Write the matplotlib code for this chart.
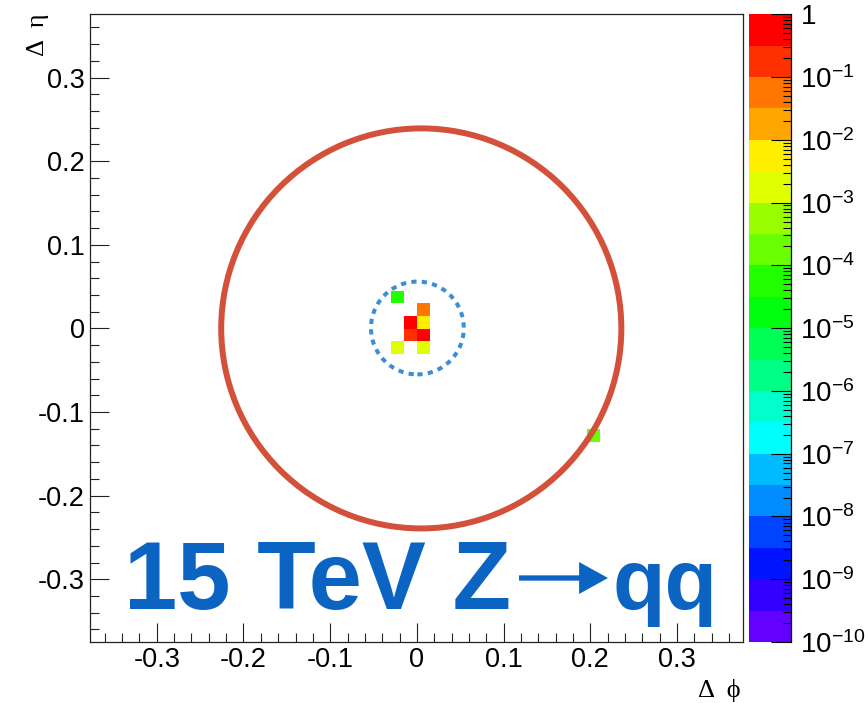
import numpy as np
import matplotlib
matplotlib.use("Agg")
import matplotlib.pyplot as plt
from matplotlib.colors import ListedColormap, LogNorm
from matplotlib.patches import Ellipse, Rectangle, FancyArrowPatch, ArrowStyle
from matplotlib.collections import PatchCollection
from matplotlib.ticker import MultipleLocator, FixedLocator, FuncFormatter, NullFormatter

plt.rcParams["font.family"] = ["Liberation Sans", "DejaVu Sans"]
plt.rcParams["axes.unicode_minus"] = False
plt.rcParams["mathtext.fontset"] = "custom"
plt.rcParams["mathtext.rm"] = "Liberation Sans"
plt.rcParams["mathtext.it"] = "Liberation Sans:italic"
plt.rcParams["mathtext.bf"] = "Liberation Sans:bold"

# Calorimeter cells around the jet axis: (delta phi, delta eta) of cell centres and energy fraction
cell_dphi = [-0.0227, 0.0077, -0.0075, 0.0077, -0.0075, 0.0077, -0.0227, 0.0077, 0.2038]
cell_deta = [0.0376, 0.0226, 0.0072, 0.0072, -0.0078, -0.0078, -0.0228, -0.0228, -0.1278]
cell_weight = [6e-5, 5e-2, 5e-1, 5e-3, 2e-1, 4e-1, 2e-3, 2e-3, 2e-4]
cell_size = 0.0152

# Large jet cone and small core cone
cone_center = (0.005, 0.0)
cone_radius = (0.2307, 0.2392)
core_center = (0.0005, 0.0005)
core_radius = (0.0535, 0.0555)

# 20-level violet-to-red palette, half a decade per level
palette = ["#6300ff", "#3300ff", "#0014ff", "#0044ff", "#008bff",
           "#00bbff", "#00fffc", "#00ffcc", "#00ff85", "#00ff55",
           "#00ff0e", "#22ff00", "#69ff00", "#99ff00", "#e0ff00",
           "#ffee00", "#ffa700", "#ff7700", "#ff3000", "#ff0000"]
z_min, z_max = 1e-10, 1.0
cbar_ticks = [1e-10, 1e-9, 1e-8, 1e-7, 1e-6, 1e-5, 1e-4, 1e-3, 1e-2, 1e-1, 1.0]

W, H = 865, 703
fig = plt.figure(figsize=(W / 100, H / 100), dpi=100)
ax = fig.add_axes([90 / W, 61 / H, 653 / W, 628 / H])
cax = fig.add_axes([749 / W, 61 / H, 41.7 / W, 627.7 / H])

cmap = ListedColormap(palette)
norm = LogNorm(vmin=z_min, vmax=z_max)

rects = [Rectangle((x - cell_size / 2, y - cell_size / 2), cell_size, cell_size)
         for x, y in zip(cell_dphi, cell_deta)]
coll = PatchCollection(rects, cmap=cmap, norm=norm, edgecolor="none", zorder=2)
coll.set_array(np.array(cell_weight))
ax.add_collection(coll)

ax.add_patch(Ellipse(cone_center, 2 * cone_radius[0], 2 * cone_radius[1],
                     fill=False, ec="#d3513a", lw=4.3, zorder=3))
ax.add_patch(Ellipse(core_center, 2 * core_radius[0], 2 * core_radius[1],
                     fill=False, ec="#3b8ed6", lw=2.9, ls=(0, (1.3, 1.3)), zorder=3))

ax.set_xlim(-0.377, 0.376)
ax.set_ylim(-0.375, 0.376)

fmt = FuncFormatter(lambda v, p: "0" if abs(v) < 1e-9 else f"{v:.1f}")
for axis in (ax.xaxis, ax.yaxis):
    axis.set_major_locator(MultipleLocator(0.1))
    axis.set_minor_locator(MultipleLocator(0.02))
    axis.set_major_formatter(fmt)
ax.tick_params(which="both", direction="in", top=False, right=False,
               width=0.8, color="#222222", labelsize=19.5)
ax.tick_params(which="major", length=13.5)
ax.tick_params(which="minor", length=6.5)
ax.tick_params(axis="x", pad=3.5)
ax.tick_params(axis="y", pad=3.6)
for s in ax.spines.values():
    s.set_linewidth(0.9)
    s.set_color("#222222")

cbar = fig.colorbar(coll, cax=cax)
cbar.outline.set_visible(False)
cax.yaxis.set_major_locator(FixedLocator(cbar_ticks))
cax.yaxis.set_major_formatter(FuncFormatter(
    lambda v, p: "1" if abs(v - 1) < 1e-12 else r"$10^{%d}$" % int(round(np.log10(v)))))
minor = [m * 10.0 ** e for e in range(-10, 0) for m in range(2, 10)]
cax.yaxis.set_minor_locator(FixedLocator(minor))
cax.yaxis.set_minor_formatter(NullFormatter())
cax.tick_params(which="both", direction="in", right=True, left=False,
                width=0.8, color="black", labelsize=20, pad=7)
cax.tick_params(which="major", length=14.4)
cax.tick_params(which="minor", length=6)
cax.plot([1, 1], [0, 1], transform=cax.transAxes, color="black", lw=0.9, clip_on=False)

# Process label: "15 TeV Z", a heavy arrow, then "qq"
label_color = "#0b64c1"
label_kw = dict(transform=ax.transAxes, va="baseline", color=label_color,
                fontweight="bold", family=["Liberation Sans", "DejaVu Sans"], zorder=4)
ax.text((124 - 90) / 653, (642 - 609) / 628, "15 TeV Z", ha="left", fontsize=69, **label_kw)
ax.text((613 - 90) / 653, (642 - 609) / 628, "qq", ha="left", fontsize=62, **label_kw)
ax.add_patch(FancyArrowPatch(((519 - 90) / 653, (642 - 578) / 628),
                             ((608 - 90) / 653, (642 - 578) / 628),
                             transform=ax.transAxes,
                             arrowstyle=ArrowStyle.Simple(head_length=1.04, head_width=1.15,
                                                          tail_width=0.19),
                             mutation_scale=20, shrinkA=0, shrinkB=0,
                             color=label_color, lw=0, zorder=4))

fig.text(741 / W, 1 - 697 / H, "\u0394  \u03d5", ha="right", va="baseline",
         fontsize=19, family=["Liberation Serif", "DejaVu Serif"])
fig.text(38 / W, 1 - 14 / H, "\u0394  \u03b7", ha="center", va="top", rotation=90,
         fontsize=19, family=["Liberation Serif", "DejaVu Serif"])

fig.savefig("out.png", dpi=100, facecolor="white")
